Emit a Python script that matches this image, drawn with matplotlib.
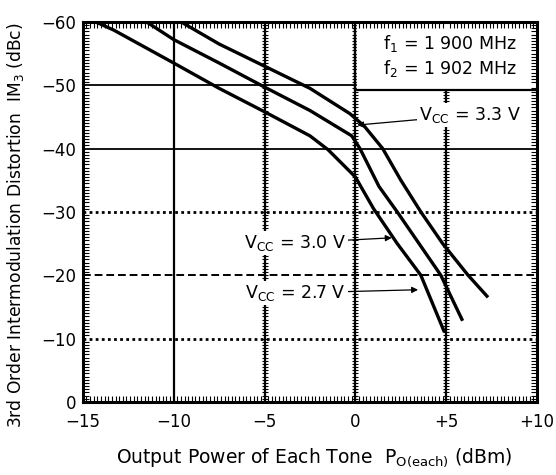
import numpy as np
import matplotlib.pyplot as plt
from matplotlib.ticker import MultipleLocator

plt.rcParams['font.family'] = ['DejaVu Sans']
plt.rcParams['mathtext.fontset'] = 'dejavusans'

# IM3 vs output power per tone
pout_33 = [-9.6, -7.5, -5.0, -2.5, -0.3, 0.5, 1.5, 2.5, 3.6, 4.8, 6.2, 7.3]
im3_33 = [-60, -56.5, -53.0, -49.5, -45.5, -43.5, -40, -35, -30, -25, -20, -16.5]

pout_30 = [-11.5, -10.0, -7.5, -5.0, -2.5, -0.2, 0.25, 1.3, 2.3, 3.5, 4.7, 5.9]
im3_30 = [-60, -57.2, -53.5, -49.7, -46.0, -42.0, -40, -34, -30, -25, -20, -12.8]

pout_27 = [-14.3, -13.3, -10.0, -7.5, -5.0, -2.5, -1.5, 0.0, 1.0, 2.3, 3.6, 4.9]
im3_27 = [-60, -58.7, -53.5, -49.5, -45.8, -42.0, -39.8, -35.5, -30.5, -25, -20, -11]

xticks = [-15, -10, -5, 0, 5, 10]
xtick_labels = ['\u221215', '\u221210', '\u22125', '0', '+5', '+10']
yticks = [0, -10, -20, -30, -40, -50, -60]
ytick_labels = ['0', '\u221210', '\u221220', '\u221230', '\u221240', '\u221250', '\u221260']

fig = plt.figure(figsize=(5.56, 4.75), dpi=100)
ax = fig.add_axes([0.149, 0.154, 0.817, 0.8])

ax.set_xlim(-15, 10)
ax.set_ylim(0, -60)

# grid
for x in [-10, -5, 0, 5]:
    ax.axvline(x, color='k', lw=1.6, zorder=1)
for y in [-50, -40]:
    ax.axhline(y, color='k', lw=1.3, zorder=1)
for y in [-30, -10]:
    ax.axhline(y, color='k', lw=2.0, ls=(0, (1, 1.2)), zorder=1)
ax.axhline(-20, color='k', lw=1.4, ls=(0, (4, 2)), zorder=1)

# comb ticks on inner vertical lines
ycomb = np.arange(-60, 0.01, 0.5)
for x in [-5, 0, 5]:
    ax.plot([x] * len(ycomb), ycomb, ls='none', marker='_', ms=4, mew=0.8,
            color='k', zorder=1)

# frequency box
ax.plot([0, 0, 10], [-60, -49.3, -49.3], color='k', lw=1.6, zorder=2)
ax.fill_between([0.1, 9.9], -59.8, -49.5, color='white', zorder=1.5)
ax.text(5.2, -56.6, 'f$_1$ = 1 900 MHz', ha='center', va='center', fontsize=12.5, zorder=3)
ax.text(5.2, -52.7, 'f$_2$ = 1 902 MHz', ha='center', va='center', fontsize=12.5, zorder=3)

for px, py in [(pout_33, im3_33), (pout_30, im3_30), (pout_27, im3_27)]:
    ax.plot(px, py, color='k', lw=2.4, solid_capstyle='butt', zorder=4)

bbox = dict(boxstyle='square,pad=0.1', fc='white', ec='none')
arrow = dict(arrowstyle='-|>', color='k', lw=0.9, shrinkA=0, shrinkB=0, mutation_scale=9)
ax.annotate('V$_{\\mathrm{CC}}$ = 3.3 V', xy=(0.1, -43.7), xytext=(6.3, -45.3),
            ha='center', va='center', fontsize=12.5, bbox=bbox, zorder=5, arrowprops=arrow)
ax.annotate('V$_{\\mathrm{CC}}$ = 3.0 V', xy=(2.0, -25.9), xytext=(-3.3, -25.1),
            ha='center', va='center', fontsize=12.5, bbox=bbox, zorder=5, arrowprops=arrow)
ax.annotate('V$_{\\mathrm{CC}}$ = 2.7 V', xy=(3.45, -17.7), xytext=(-3.3, -17.2),
            ha='center', va='center', fontsize=12.5, bbox=bbox, zorder=5, arrowprops=arrow)

ax.set_xticks(xticks)
ax.set_xticklabels(xtick_labels)
ax.set_yticks(yticks)
ax.set_yticklabels(ytick_labels)
ax.xaxis.set_minor_locator(MultipleLocator(0.2))
ax.yaxis.set_minor_locator(MultipleLocator(0.5))
ax.tick_params(which='both', direction='in', top=True, right=True, labelsize=12, width=0.8)
ax.tick_params(which='major', length=0)
ax.tick_params(axis='x', which='major', pad=8)
ax.tick_params(axis='y', which='major', pad=5)
ax.tick_params(which='minor', length=4.5)
for s in ax.spines.values():
    s.set_linewidth(2.2)

fig.text(0.565, 0.036, 'Output Power of Each Tone  P$_{\\mathrm{O(each)}}$ (dBm)',
         ha='center', va='center', fontsize=13.5)
fig.text(0.028, 0.1, '3rd Order Intermodulation Distortion  IM$_3$ (dBc)',
         rotation=90, ha='center', va='bottom', fontsize=12.3)

fig.savefig('out.png', dpi=100)
